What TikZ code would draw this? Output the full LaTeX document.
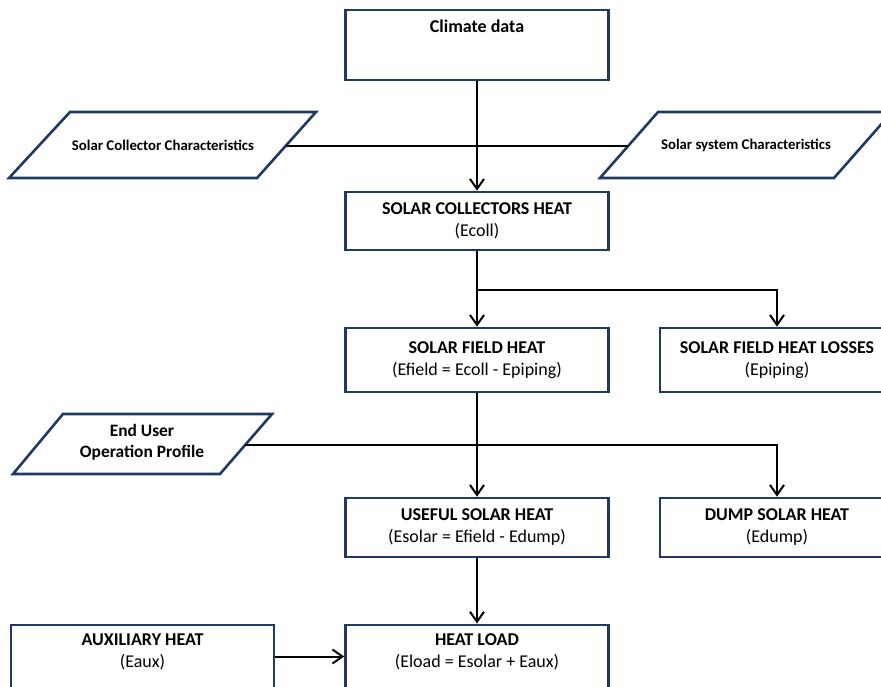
\documentclass[tikz,border=0pt]{standalone}
\usepackage{fontspec}
\setmainfont{Carlito}
\usetikzlibrary{arrows.meta}
\definecolor{boxblue}{RGB}{31,56,100}
\begin{document}
\begin{tikzpicture}[x=1pt,y=-1pt,
  boxfont/.style={font=\fontsize{18}{22}\selectfont},
  box/.style={draw=boxblue, line width=2.6pt, fill=white, align=center, inner sep=0pt, boxfont},
  para/.style={draw=boxblue, line width=2.6pt, line join=miter},
  paratext/.style={align=center, font=\bfseries\fontsize{14.8}{21}\selectfont},
  conn/.style={line width=2pt, black},
  arr/.style={conn, -{Straight Barb[length=10pt,width=14pt]}},
]
\clip (0,0) rectangle (881,686);

% boxes
\node[box, minimum width=263pt, minimum height=70pt,
  label={[anchor=center, yshift=-18pt, font=\bfseries\fontsize{18}{22}\selectfont]north:Climate data}]
  (climate) at (477,45) {};
\node[box, minimum width=263pt, minimum height=58pt] (coll) at (477,221)
  {\textbf{SOLAR COLLECTORS HEAT}\\(Ecoll)};
\node[box, minimum width=263pt, minimum height=64pt] (field) at (477,360)
  {\textbf{SOLAR FIELD HEAT}\\(Efield = Ecoll - Epiping)};
\node[box, minimum width=234pt, minimum height=64pt] (losses) at (777,360)
  {\textbf{SOLAR FIELD HEAT LOSSES}\\(Epiping)};
\node[box, minimum width=263pt, minimum height=59pt] (useful) at (477,527.5)
  {\textbf{USEFUL SOLAR HEAT}\\(Esolar = Efield - Edump)};
\node[box, minimum width=234pt, minimum height=59pt] (dump) at (777,527.5)
  {\textbf{DUMP SOLAR HEAT}\\(Edump)};
\node[box, anchor=north, minimum width=263pt, minimum height=90pt,
  label={[anchor=center, yshift=-28pt, align=center, boxfont]north:{\textbf{HEAT LOAD}\\(Eload = Esolar + Eaux)}}]
  (heatload) at (477,623.5) {};
\node[box, anchor=north, minimum width=263pt, minimum height=90pt,
  label={[anchor=center, yshift=-28pt, align=center, boxfont]north:{\textbf{AUXILIARY HEAT}\\(Eaux)}}]
  (aux) at (142.5,623.5) {};

% parallelograms
\draw[para] (70,112) -- (316,112) -- (257,178) -- (9,178) -- cycle;
\node[paratext] (scc) at (163,145) {Solar Collector Characteristics};
\coordinate (sccR) at (285.6,146);
\draw[para] (658,112) -- (892,112) -- (834,178) -- (600,178) -- cycle;
\node[paratext] (ssc) at (746,145) {Solar system Characteristics};
\coordinate (sscL) at (628,146);
\draw[para] (63,414) -- (272,414) -- (220,474) -- (13,474) -- cycle;
\node[paratext, font=\bfseries\fontsize{17.4}{21}\selectfont] (eu) at (142,442) {End User\\Operation Profile};
\coordinate (euR) at (245,445);

% connectors
\draw[arr] (climate.south) -- (coll.north);
\draw[conn] (sccR) -- (sscL);
\coordinate (split) at (477,290);
\draw[conn, line width=2.8pt] (coll.south) -- (split);
\draw[arr] (split) -- (field.north);
\draw[arr] (split) -| (losses.north);
\draw[arr] (field.south) -- (useful.north);
\draw[arr] (euR) -| (dump.north);
\draw[arr] (useful.south) -- (heatload.north);
\draw[arr] ([yshift=-33pt]aux.north east) -- ([yshift=-33pt]heatload.north west);
\end{tikzpicture}
\end{document}
